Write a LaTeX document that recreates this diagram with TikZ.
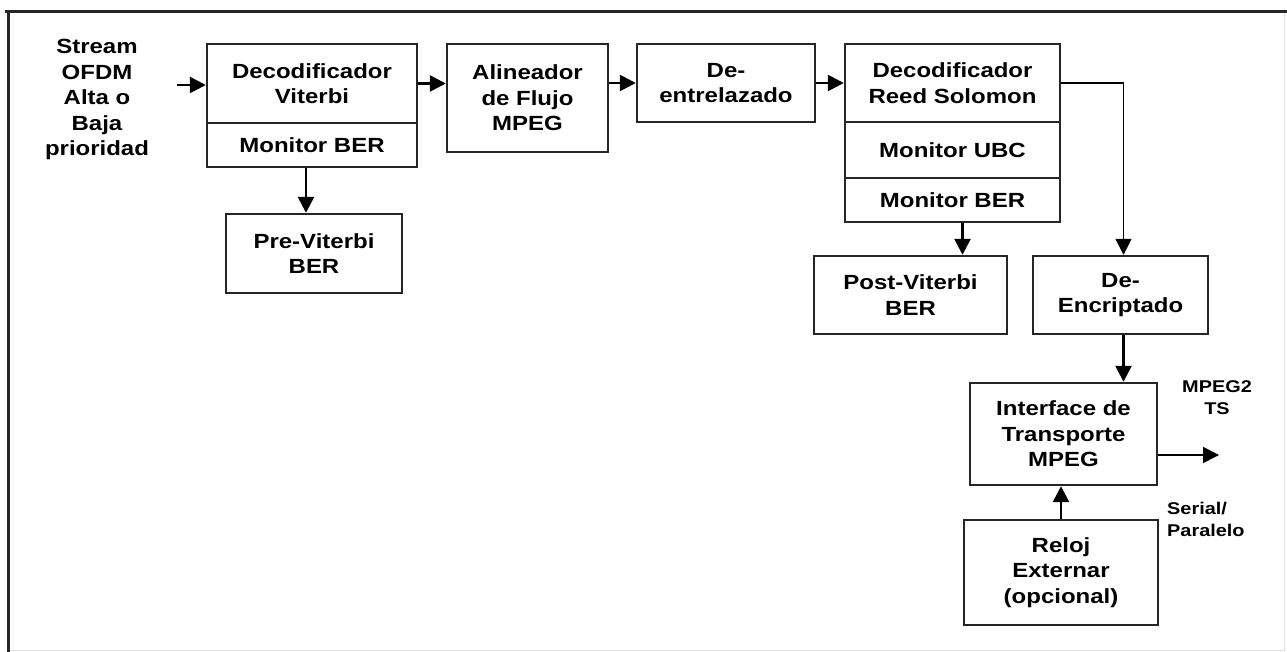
\documentclass[tikz,border=0pt]{standalone}
\usepackage{fontspec}
\setmainfont{Liberation Sans}[FakeStretch=1.17]
\usetikzlibrary{arrows.meta}
\begin{document}
\begin{tikzpicture}[x=1pt,y=-1pt,
  blk/.style={draw=black!85, line width=2.4pt, align=center, inner sep=0pt,
    font=\fontsize{20.5}{25.5}\selectfont\bfseries},
  lbl/.style={align=center, inner sep=0pt,
    font=\fontsize{20.5}{25.5}\selectfont\bfseries},
  sidelbl/.style={inner sep=0pt, font=\fontsize{17}{22}\selectfont\bfseries},
  thick arr/.style={line width=2.6pt, -{Triangle[length=16pt,width=16pt]}},
  thin arr/.style={line width=1.6pt, -{Triangle[length=16pt,width=16pt]}}]

\useasboundingbox (0,0) rectangle (1287,652);
\fill[white] (0,0) rectangle (1287,652);

% enclosing frame
\draw[gray!25, line width=1pt] (1284,12) -- (1284,650) -- (8,650);
\draw[black!85, line width=2.2pt] (5,11.5) -- (1287,11.5);
\draw[black!85, line width=2.2pt] (8.5,11.5) -- (8.5,652);

% input label
\node[lbl] (stream) at (97,99.5) {Stream\\OFDM\\Alta o\\Baja\\prioridad};

% Viterbi decoder with its BER monitor
\node[blk, minimum width=210pt, minimum height=79pt] (vit) at (312,83.5) {Decodificador\\Viterbi};
\node[blk, minimum width=210pt, minimum height=44pt] (vitber) at (312,145) {Monitor BER};
\node[blk, minimum width=176pt, minimum height=79pt] (pre) at (314,253.5) {Pre-Viterbi\\BER};

% stream alignment and de-interleaving
\node[blk, minimum width=161pt, minimum height=108pt] (alin) at (527.5,98) {Alineador\\de Flujo\\MPEG};
\node[blk, minimum width=178pt, minimum height=78pt] (deint) at (726,83) {De-\\entrelazado};

% Reed Solomon decoder with its monitors
\node[blk, minimum width=215pt, minimum height=78pt] (rs) at (952.5,83) {Decodificador\\Reed Solomon};
\node[blk, minimum width=215pt, minimum height=56pt] (rsubc) at (952.5,150) {Monitor UBC};
\node[blk, minimum width=215pt, minimum height=44pt] (rsber) at (952.5,200) {Monitor BER};
\node[blk, minimum width=193pt, minimum height=78pt] (post) at (910.5,295) {Post-Viterbi\\BER};

% descrambling and transport output
\node[blk, minimum width=175pt, minimum height=78pt] (denc) at (1120.5,295) {De-\\Encriptado};
\node[blk, minimum width=187pt, minimum height=102pt] (iface) at (1063.5,434) {Interface de\\Transporte\\MPEG};
\node[blk, minimum width=194pt, minimum height=105pt] (reloj) at (1061,572.5) {Reloj\\Externar\\(opcional)};

\node[sidelbl, align=center] (ts) at (1217,398) {MPEG2\\TS};
\node[sidelbl, align=left, anchor=west] (ser) at (1167,519) {Serial/\\Paralelo};

% connectors
\coordinate (in) at (177,85);
\coordinate (out) at (1219,455);
\draw[thick arr] (in) -- (in -| vit.west);
\draw[thick arr] (vit.east) -- (vit.east -| alin.west);
\draw[thick arr] (deint.west -| alin.east) -- (deint.west);
\draw[thick arr] (deint.east) -- (rs.west);
\draw[thick arr] ([xshift=-8pt]pre.north |- vitber.south) -- ([xshift=-8pt]pre.north);
\draw[thick arr] ([xshift=10pt]rsber.south) -- ([xshift=10pt]rsber.south |- post.north);
\draw[thin arr] (rs.east) -| ([xshift=3pt]denc.north);
\draw[thick arr] ([xshift=3pt]denc.south) -- ([xshift=3pt]denc.south |- iface.north);
\draw[thick arr] (reloj.north) -- (reloj.north |- iface.south);
\draw[thin arr] (out -| iface.east) -- (out);
\end{tikzpicture}
\end{document}
